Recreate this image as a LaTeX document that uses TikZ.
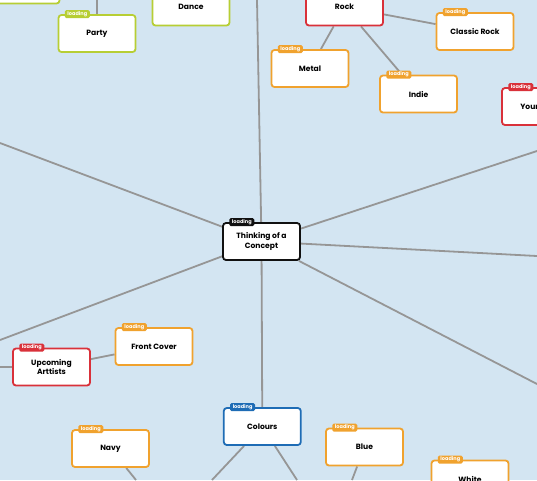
\documentclass[tikz,border=0pt]{standalone}
\usepackage{fontspec}
\setmainfont{Poppins}
\pgfdeclarelayer{background}
\pgfsetlayers{background,main}
\definecolor{bgblue}{RGB}{211,229,242}
\definecolor{lime}{RGB}{183,206,52}
\definecolor{cred}{RGB}{217,49,58}
\definecolor{corange}{RGB}{240,162,46}
\definecolor{cblue}{RGB}{30,108,181}
\definecolor{cblack}{RGB}{17,17,17}
\definecolor{linegray}{RGB}{150,150,150}
\tikzset{
  box/.style={draw, fill=white, line width=1.8pt, rounded corners=3pt,
    minimum width=77pt, minimum height=37pt, inner sep=0pt, align=center,
    font=\fontsize{7.6}{9.6}\selectfont\bfseries},
  tab/.style={fill, rounded corners=1.5pt, minimum width=25pt, minimum height=8pt,
    inner sep=0pt, text=white, font=\fontsize{5}{5}\selectfont\bfseries,
    anchor=west, xshift=7pt},
  link/.style={draw=linegray, line width=1.8pt},
}
\begin{document}
\begin{tikzpicture}[x=1pt,y=-1pt]
\useasboundingbox (0,0) rectangle (537,480);
\begin{pgfonlayer}{background}
\fill[bgblue] (0,0) rectangle (537,480);
\end{pgfonlayer}

% nodes
\node[box, draw=lime] (tl) at (21,-15) {};
\node[box, draw=lime] (party) at (97,33.5) {Party};
\node[tab, fill=lime] (partytab) at (party.north west) {loading};
\node[box, draw=lime] (dance) at (191,7) {Dance};
\node[box, draw=cred] (rock) at (344.5,7) {Rock};
\node[box, draw=corange] (classic) at (475,31.5) {Classic Rock};
\node[tab, fill=corange] (classictab) at (classic.north west) {loading};
\node[box, draw=corange] (metal) at (310,68.5) {Metal};
\node[tab, fill=corange] (metaltab) at (metal.north west) {loading};
\node[box, draw=corange] (indie) at (418.5,94) {Indie};
\node[tab, fill=corange] (indietab) at (indie.north west) {loading};
\node[box, draw=cred] (your) at (540.5,106.5) {Your\hspace*{22pt}};
\node[tab, fill=cred] (yourtab) at (your.north west) {loading};
\node[box, draw=cblack] (concept) at (261.5,241.5) {Thinking of a\\Concept};
\node[tab, fill=cblack] (concepttab) at (concept.north west) {loading};
\node[box, draw=cred] (upcoming) at (51.5,367) {Upcoming\\Arttists};
\node[tab, fill=cred] (upcomingtab) at (upcoming.north west) {loading};
\node[box, draw=corange] (front) at (154,346.5) {Front Cover};
\node[tab, fill=corange] (fronttab) at (front.north west) {loading};
\node[box, draw=cblue] (colours) at (262.3,426.5) {Colours};
\node[tab, fill=cblue] (colourstab) at (colours.north west) {loading};
\node[box, draw=corange] (navy) at (110.5,448.5) {Navy};
\node[tab, fill=corange] (navytab) at (navy.north west) {loading};
\node[box, draw=corange] (blue) at (364.5,447) {Blue};
\node[tab, fill=corange] (bluetab) at (blue.north west) {loading};
\node[box, draw=corange] (white) at (470,479) {White};
\node[tab, fill=corange] (whitetab) at (white.north west) {loading};

% free ends
\coordinate (ptop) at (97,-20);
\coordinate (ctop) at (257,0);
\coordinate (cul) at (0,143);
\coordinate (cur) at (537,151);
\coordinate (cr) at (537,256);
\coordinate (clr) at (537,384);
\coordinate (cll) at (0,340);
\coordinate (uleft) at (0,367);
\coordinate (colA) at (212,480);
\coordinate (colB) at (297,480);
\coordinate (navyA) at (136,480);
\coordinate (blueA) at (352,480);

\begin{pgfonlayer}{background}
\draw[link] (party) -- (ptop);
\draw[link] (concept) -- (ctop);
\draw[link] (concept) -- (cul);
\draw[link] (concept) -- (cur);
\draw[link] (concept) -- (cr);
\draw[link] (concept) -- (clr);
\draw[link] (concept) -- (cll);
\draw[link] (concept) -- (colours);
\draw[link] (rock) -- (classic);
\draw[link] (rock) -- (metal);
\draw[link] (rock) -- (indie);
\draw[link] (upcoming) -- (uleft);
\draw[link] (upcoming) -- (front);
\draw[link] (colours) -- (colA);
\draw[link] (colours) -- (colB);
\draw[link] (navy) -- (navyA);
\draw[link] (blue) -- (blueA);
\end{pgfonlayer}
\end{tikzpicture}
\end{document}
